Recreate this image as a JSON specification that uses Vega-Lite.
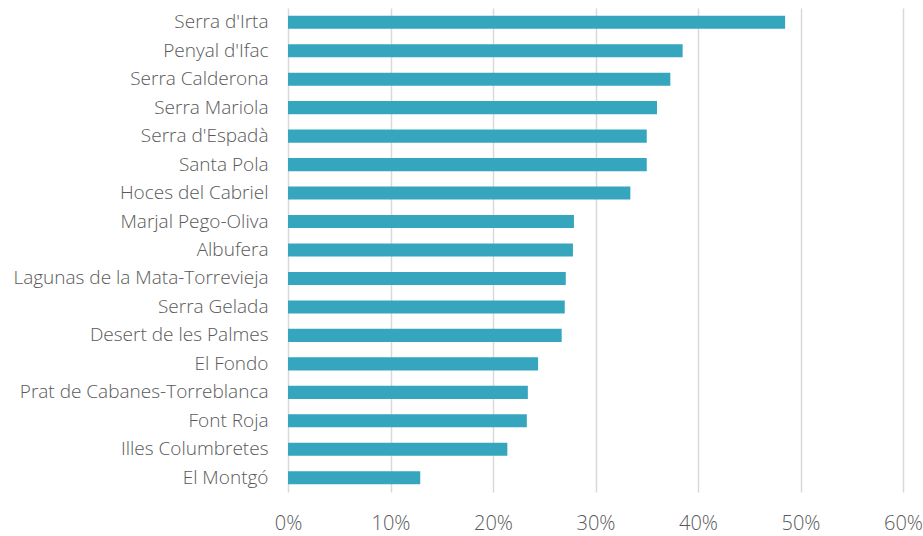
{
  "$schema": "https://vega.github.io/schema/vega-lite/v6.json",
  "width": 615,
  "height": 484,
  "autosize": {"type": "none"},
  "padding": {"left": 288, "top": 8, "right": 20, "bottom": 44},
  "background": "white",
  "config": {"view": {"stroke": null}},
  "data": {
    "values": [
      {"park": "Serra d'Irta", "value": 0.485},
      {"park": "Penyal d'Ifac", "value": 0.385},
      {"park": "Serra Calderona", "value": 0.373},
      {"park": "Serra Mariola", "value": 0.360},
      {"park": "Serra d'Espadà", "value": 0.350},
      {"park": "Santa Pola", "value": 0.350},
      {"park": "Hoces del Cabriel", "value": 0.334},
      {"park": "Marjal Pego-Oliva", "value": 0.279},
      {"park": "Albufera", "value": 0.278},
      {"park": "Lagunas de la Mata-Torrevieja", "value": 0.271},
      {"park": "Serra Gelada", "value": 0.270},
      {"park": "Desert de les Palmes ", "value": 0.267},
      {"park": "El Fondo", "value": 0.244},
      {"park": "Prat de Cabanes-Torreblanca", "value": 0.234},
      {"park": "Font Roja", "value": 0.233},
      {"park": "Illes Columbretes", "value": 0.214},
      {"park": "El Montgó", "value": 0.129}
    ]
  },
  "mark": {"type": "bar", "color": "#36A6BE"},
  "encoding": {
    "y": {
      "field": "park",
      "type": "nominal",
      "sort": null,
      "scale": {"paddingInner": 0.54, "paddingOuter": 0.27},
      "axis": {
        "title": null,
        "domain": false,
        "ticks": false,
        "labelPadding": 20,
        "labelFont": "Open Sans",
        "labelFontSize": 19,
        "labelFontWeight": 300,
        "labelColor": "#595959",
        "labelLimit": 400
      }
    },
    "x": {
      "field": "value",
      "type": "quantitative",
      "scale": {"domain": [0, 0.6], "nice": false},
      "axis": {
        "title": null,
        "format": ".0%",
        "values": [0, 0.1, 0.2, 0.3, 0.4, 0.5, 0.6],
        "domain": false,
        "ticks": false,
        "grid": true,
        "gridColor": "#d9d9d9",
        "gridWidth": 1.5,
        "labelPadding": 21,
        "labelFont": "Open Sans",
        "labelFontSize": 20,
        "labelFontWeight": 300,
        "labelColor": "#595959",
        "labelFlush": false
      }
    }
  }
}
